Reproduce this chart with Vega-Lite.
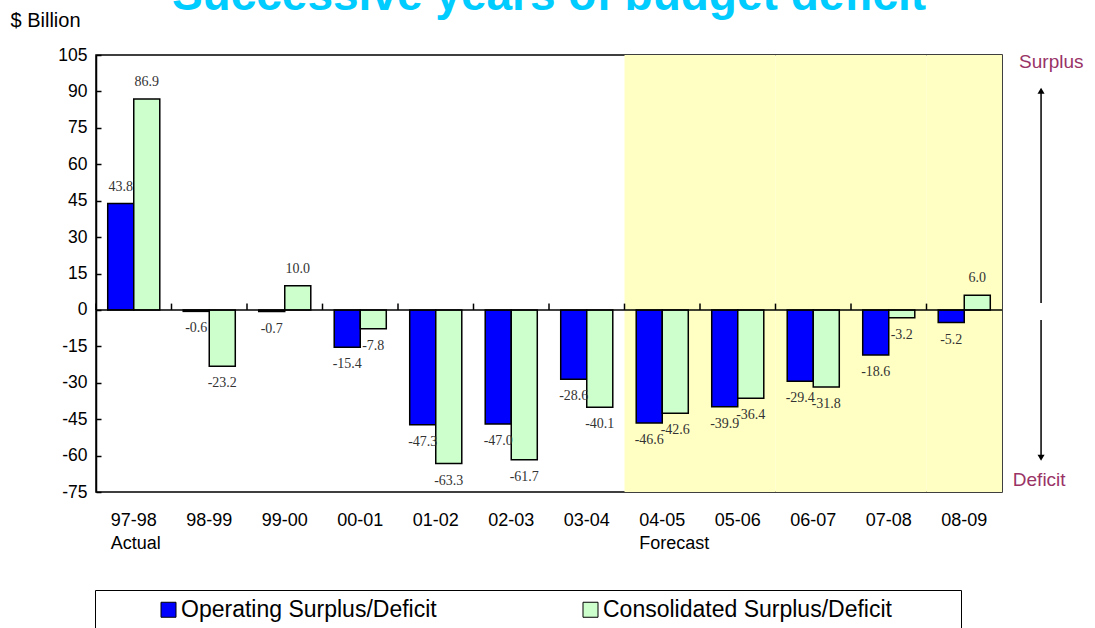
{
  "$schema": "https://vega.github.io/schema/vega-lite/v6.json",
  "autosize": "none",
  "padding": {"left": 96, "top": 55, "right": 999, "bottom": 136},
  "background": "white",
  "spacing": 0,
  "bounds": "flush",
  "config": {
    "font": "Liberation Sans",
    "view": {"stroke": null},
    "axisY": {"labelOverlap": false, "labelBound": false},
    "locale": {"number": {"decimal": ".", "thousands": ",", "grouping": [3], "currency": ["$", ""], "minus": "-"}}
  },
  "resolve": {"scale": {"x": "independent", "y": "independent"}},
  "datasets": {
    "bars": [
      {"period": "97-98", "series": "Operating Surplus/Deficit", "value": 43.8},
      {"period": "98-99", "series": "Operating Surplus/Deficit", "value": -0.6},
      {"period": "99-00", "series": "Operating Surplus/Deficit", "value": -0.7},
      {"period": "00-01", "series": "Operating Surplus/Deficit", "value": -15.4},
      {"period": "01-02", "series": "Operating Surplus/Deficit", "value": -47.3},
      {"period": "02-03", "series": "Operating Surplus/Deficit", "value": -47.0},
      {"period": "03-04", "series": "Operating Surplus/Deficit", "value": -28.6},
      {"period": "04-05", "series": "Operating Surplus/Deficit", "value": -46.6},
      {"period": "05-06", "series": "Operating Surplus/Deficit", "value": -39.9},
      {"period": "06-07", "series": "Operating Surplus/Deficit", "value": -29.4},
      {"period": "07-08", "series": "Operating Surplus/Deficit", "value": -18.6},
      {"period": "08-09", "series": "Operating Surplus/Deficit", "value": -5.2},
      {"period": "97-98", "series": "Consolidated Surplus/Deficit", "value": 86.9},
      {"period": "98-99", "series": "Consolidated Surplus/Deficit", "value": -23.2},
      {"period": "99-00", "series": "Consolidated Surplus/Deficit", "value": 10.0},
      {"period": "00-01", "series": "Consolidated Surplus/Deficit", "value": -7.8},
      {"period": "01-02", "series": "Consolidated Surplus/Deficit", "value": -63.3},
      {"period": "02-03", "series": "Consolidated Surplus/Deficit", "value": -61.7},
      {"period": "03-04", "series": "Consolidated Surplus/Deficit", "value": -40.1},
      {"period": "04-05", "series": "Consolidated Surplus/Deficit", "value": -42.6},
      {"period": "05-06", "series": "Consolidated Surplus/Deficit", "value": -36.4},
      {"period": "06-07", "series": "Consolidated Surplus/Deficit", "value": -31.8},
      {"period": "07-08", "series": "Consolidated Surplus/Deficit", "value": -3.2},
      {"period": "08-09", "series": "Consolidated Surplus/Deficit", "value": 6.0}
    ],
    "periods": [
      {"period": "97-98", "forecast": false},
      {"period": "98-99", "forecast": false},
      {"period": "99-00", "forecast": false},
      {"period": "00-01", "forecast": false},
      {"period": "01-02", "forecast": false},
      {"period": "02-03", "forecast": false},
      {"period": "03-04", "forecast": false},
      {"period": "04-05", "forecast": true},
      {"period": "05-06", "forecast": true},
      {"period": "06-07", "forecast": true},
      {"period": "07-08", "forecast": true},
      {"period": "08-09", "forecast": true}
    ]
  },
  "hconcat": [
    {
      "width": 906,
      "height": 437,
      "title": {
        "text": "Successive years of budget deficit",
        "fontSize": 46,
        "fontWeight": "bold",
        "color": "#00CCFF",
        "font": "Liberation Sans",
        "anchor": "middle",
        "baseline": "alphabetic",
        "offset": 1,
        "dy": 47
      },
      "view": {"stroke": "black", "strokeWidth": 1.5},
      "layer": [
        {
          "data": {"name": "periods"},
          "transform": [{"filter": "datum.forecast"}],
          "mark": {"type": "bar", "fill": "#FFFFC4"},
          "encoding": {
            "x": {
              "field": "period",
              "type": "nominal",
              "sort": null,
              "scale": {
                "domain": ["97-98", "98-99", "99-00", "00-01", "01-02", "02-03", "03-04", "04-05", "05-06", "06-07", "07-08", "08-09"],
                "paddingInner": 0,
                "paddingOuter": 0
              },
              "axis": {
                "title": null,
                "orient": "bottom",
                "domain": false,
                "ticks": false,
                "tickSize": 0,
                "labelAngle": 0,
                "labelAlign": "left",
                "labelOffset": -23,
                "labelPadding": 19,
                "labelBaseline": "top",
                "labelFontSize": 18,
                "labelLineHeight": 23,
                "labelColor": "black",
                "labelOverlap": false,
                "labelBound": false,
                "labelExpr": "datum.value == '97-98' ? ['97-98', 'Actual'] : datum.value == '04-05' ? ['04-05', 'Forecast'] : datum.value"
              }
            },
            "y": {
              "datum": 105,
              "type": "quantitative",
              "scale": {"domain": [-75, 105], "nice": false, "zero": false},
              "axis": {
                "title": "$ Billion",
                "titleAngle": 0,
                "titleAlign": "left",
                "titleBaseline": "middle",
                "titleX": -86,
                "titleY": -35,
                "titleFontSize": 20,
                "titleFontWeight": "normal",
                "titleColor": "black",
                "values": [-75, -60, -45, -30, -15, 0, 15, 30, 45, 60, 75, 90, 105],
                "tickCount": 20,
                "grid": false,
                "domainColor": "black",
                "domainWidth": 1.5,
                "tickColor": "black",
                "tickSize": -5,
                "tickWidth": 1.5,
                "labelFontSize": 17.5,
                "labelColor": "black",
                "labelPadding": 14,
                "labelOverlap": false,
                "labelBound": false
              }
            },
            "y2": {"datum": -75}
          }
        },
        {
          "data": {"name": "bars"},
          "mark": {"type": "bar", "stroke": "black", "strokeWidth": 1.5},
          "encoding": {
            "x": {"field": "period", "type": "nominal", "sort": null},
            "xOffset": {
              "field": "series",
              "type": "nominal",
              "scale": {
                "domain": ["Operating Surplus/Deficit", "Consolidated Surplus/Deficit"],
                "paddingInner": 0,
                "paddingOuter": 0.45
              }
            },
            "y": {"field": "value", "type": "quantitative"},
            "color": {
              "field": "series",
              "type": "nominal",
              "scale": {
                "domain": ["Operating Surplus/Deficit", "Consolidated Surplus/Deficit"],
                "range": ["#0000FF", "#CCFFCC"]
              },
              "legend": {
                "title": " ",
                "titleOrient": "right",
                "titlePadding": 61,
                "orient": "none",
                "legendX": -1,
                "legendY": 535,
                "direction": "horizontal",
                "symbolType": "square",
                "symbolSize": 225,
                "symbolStrokeColor": "black",
                "symbolStrokeWidth": 1,
                "symbolOffset": 54,
                "labelFontSize": 23,
                "labelColor": "black",
                "labelOffset": 1,
                "labelLimit": 600,
                "columnPadding": 88,
                "padding": 8,
                "strokeColor": "black",
                "fillColor": "white"
              }
            }
          }
        },
        {
          "data": {"values": [{"z": 0}]},
          "mark": {"type": "rule", "color": "black", "strokeWidth": 1.5},
          "encoding": {"y": {"field": "z", "type": "quantitative"}}
        },
        {
          "data": {"name": "periods"},
          "mark": {"type": "rule", "color": "black", "strokeWidth": 1.5},
          "encoding": {
            "x": {"field": "period", "type": "nominal", "sort": null, "bandPosition": 0},
            "y": {"datum": 0, "type": "quantitative"},
            "y2": {"datum": 2.6}
          }
        },
        {
          "data": {"name": "bars"},
          "transform": [{"filter": "datum.value >= 0"}],
          "mark": {"type": "text", "font": "Liberation Serif", "fontSize": 14, "color": "#333333", "baseline": "alphabetic", "dy": -13},
          "encoding": {
            "x": {"field": "period", "type": "nominal", "sort": null},
            "xOffset": {"field": "series", "type": "nominal"},
            "y": {"field": "value", "type": "quantitative"},
            "text": {"field": "value", "type": "quantitative", "format": ".1f"}
          }
        },
        {
          "data": {"name": "bars"},
          "transform": [{"filter": "datum.value < 0"}],
          "mark": {"type": "text", "font": "Liberation Serif", "fontSize": 14, "color": "#333333", "baseline": "top", "dy": 10},
          "encoding": {
            "x": {"field": "period", "type": "nominal", "sort": null},
            "xOffset": {"field": "series", "type": "nominal"},
            "y": {"field": "value", "type": "quantitative"},
            "text": {"field": "value", "type": "quantitative", "format": ".1f"}
          }
        }
      ]
    },
    {
      "width": 93,
      "height": 437,
      "view": {"stroke": null},
      "layer": [
        {
          "data": {"values": [{"x": 42, "y1": 2.8, "y2": 90}, {"x": 42, "y1": -4.2, "y2": -61}]},
          "mark": {"type": "rule", "color": "black", "strokeWidth": 1.5},
          "encoding": {
            "x": {"field": "x", "type": "quantitative", "scale": {"domain": [0, 93]}, "axis": null},
            "y": {"field": "y1", "type": "quantitative", "scale": {"domain": [-75, 105], "nice": false, "zero": false}, "axis": null},
            "y2": {"field": "y2"}
          }
        },
        {
          "data": {"values": [{"x": 42, "y": 90.3, "shape": "triangle-up"}, {"x": 42, "y": -60.9, "shape": "triangle-down"}]},
          "mark": {"type": "point", "filled": true, "color": "black", "size": 50, "opacity": 1},
          "encoding": {
            "x": {"field": "x", "type": "quantitative"},
            "y": {"field": "y", "type": "quantitative"},
            "shape": {"field": "shape", "type": "nominal", "scale": null}
          }
        },
        {
          "data": {"values": [{"x": 53, "y": 102.3, "label": "Surplus"}, {"x": 40, "y": -70, "label": "Deficit"}]},
          "mark": {"type": "text", "fontSize": 19, "color": "#993366", "font": "Liberation Sans"},
          "encoding": {
            "x": {"field": "x", "type": "quantitative"},
            "y": {"field": "y", "type": "quantitative"},
            "text": {"field": "label", "type": "nominal"}
          }
        }
      ]
    }
  ]
}
